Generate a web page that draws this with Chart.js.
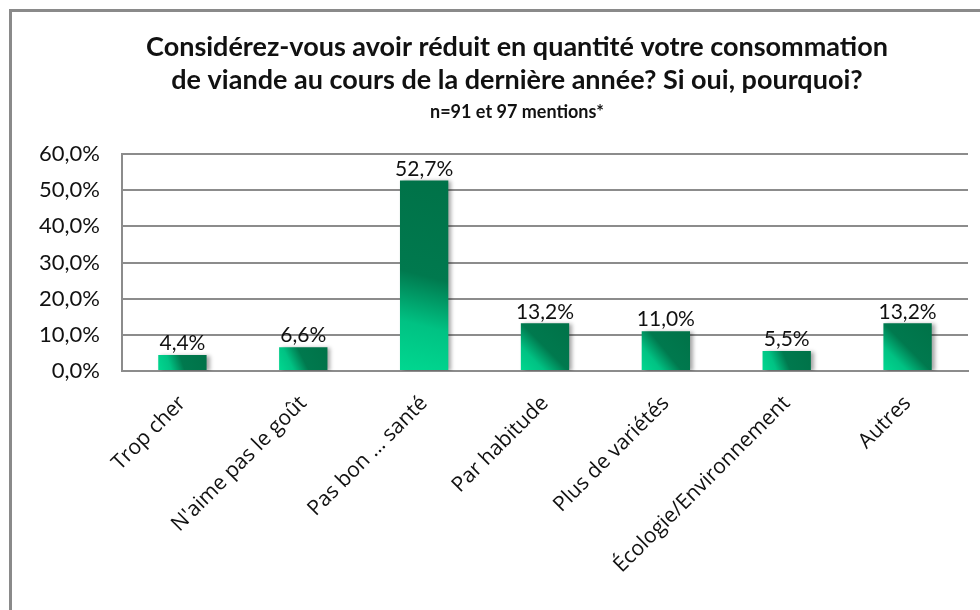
<!DOCTYPE html>
<html>
<head>
<meta charset="utf-8">
<script src="https://cdn.jsdelivr.net/npm/chart.js@4/dist/chart.umd.min.js"></script>
<style>
  body { margin: 0; background: #fff; }
  #wrap { position: relative; width: 980px; height: 610px; overflow: hidden; }
  #frame { position: absolute; left: 9px; top: 9px; width: 1000px; height: 700px;
           border-top: 3px solid #8a8a8a; border-left: 3px solid #8a8a8a; }
  canvas { position: absolute; left: 0; top: 0; }
</style>
</head>
<body>
<div id="wrap">
  <div id="frame"></div>
  <canvas id="raisons" width="980" height="610"></canvas>
</div>
<script>
const categories = ['Trop cher', "N'aime pas le goût", 'Pas bon … santé', 'Par habitude',
                    'Plus de variétés', 'Écologie/Environnement', 'Autres'];
const values = [4.4, 6.6, 52.7, 13.2, 11.0, 5.5, 13.2];
const titleLines = ['Considérez-vous avoir réduit en quantité votre consommation',
                    'de viande au cours de la dernière année? Si oui, pourquoi?'];
const subtitle = 'n=91 et 97 mentions*';

const fmt = v => v.toFixed(1).replace('.', ',') + '%';

// gradient par barre, clair en bas à gauche, foncé en haut à droite
function barGradient(ctx) {
  const chart = ctx.chart;
  const { x, y } = chart.scales;
  if (!chart.chartArea || !x || !y || ctx.dataIndex === undefined) return '#00a870';
  const w = x.width / categories.length * 0.4;
  const cx = x.getPixelForValue(ctx.dataIndex);
  const top = y.getPixelForValue(values[ctx.dataIndex]);
  const bottom = y.getPixelForValue(0);
  if (![w, cx, top, bottom].every(Number.isFinite)) return '#00a870';
  const g = chart.ctx.createLinearGradient(cx - w / 2, bottom, cx + w / 2, top);
  g.addColorStop(0, '#00d890');
  g.addColorStop(0.25, '#00c283');
  g.addColorStop(0.5, '#00794e');
  g.addColorStop(1, '#007248');
  return g;
}

const titlePlugin = {
  id: 'titres',
  afterDraw(chart) {
    const c = chart.ctx;
    c.save();
    c.fillStyle = '#111';
    c.textAlign = 'center';
    c.textBaseline = 'middle';
    c.font = 'bold 27px Lato';
    c.fillText(titleLines[0], 517, 47);
    c.fillText(titleLines[1], 517, 80);
    c.font = 'bold 18px Lato';
    c.fillText(subtitle, 517, 112);
    c.restore();
  }
};

const labelPlugin = {
  id: 'valeurs',
  beforeDatasetsDraw(chart) {
    chart.ctx.save();
    chart.ctx.shadowColor = 'rgba(0,0,0,0.35)';
    chart.ctx.shadowOffsetX = 3;
    chart.ctx.shadowOffsetY = 1;
    chart.ctx.shadowBlur = 4;
  },
  afterDatasetsDraw(chart) {
    chart.ctx.restore();
    const c = chart.ctx;
    const meta = chart.getDatasetMeta(0);
    c.save();
    c.fillStyle = '#111';
    c.font = '21px Lato';
    c.textAlign = 'center';
    c.textBaseline = 'bottom';
    meta.data.forEach((bar, i) => {
      c.fillText(fmt(values[i]), bar.x, bar.y - 1);
    });
    c.restore();
  }
};

new Chart(document.getElementById('raisons'), {
  type: 'bar',
  data: {
    labels: categories,
    datasets: [{
      data: values,
      backgroundColor: barGradient,
      barPercentage: 0.4,
      categoryPercentage: 1
    }]
  },
  options: {
    responsive: false,
    animation: false,
    layout: { padding: { top: 154, right: 12, left: 0, bottom: 0 } },
    plugins: { legend: { display: false }, tooltip: { enabled: false } },
    scales: {
      y: {
        min: 0, max: 60,
        ticks: { stepSize: 10, callback: v => fmt(v), color: '#111',
                 font: { family: 'Lato', size: 22 }, padding: 22 },
        grid: { color: '#8c8c8c', lineWidth: 2, drawTicks: false },
        border: { color: '#8c8c8c', width: 2 },
        afterFit: s => { s.width = 122; }
      },
      x: {
        ticks: { minRotation: 45, maxRotation: 45, color: '#111',
                 font: { family: 'Open Sans', size: 21 }, padding: 20 },
        grid: { display: false, drawTicks: false },
        border: { color: '#8c8c8c', width: 2 },
        afterFit: s => { s.height = 239; }
      }
    }
  },
  plugins: [titlePlugin, labelPlugin]
});
</script>
</body>
</html>
